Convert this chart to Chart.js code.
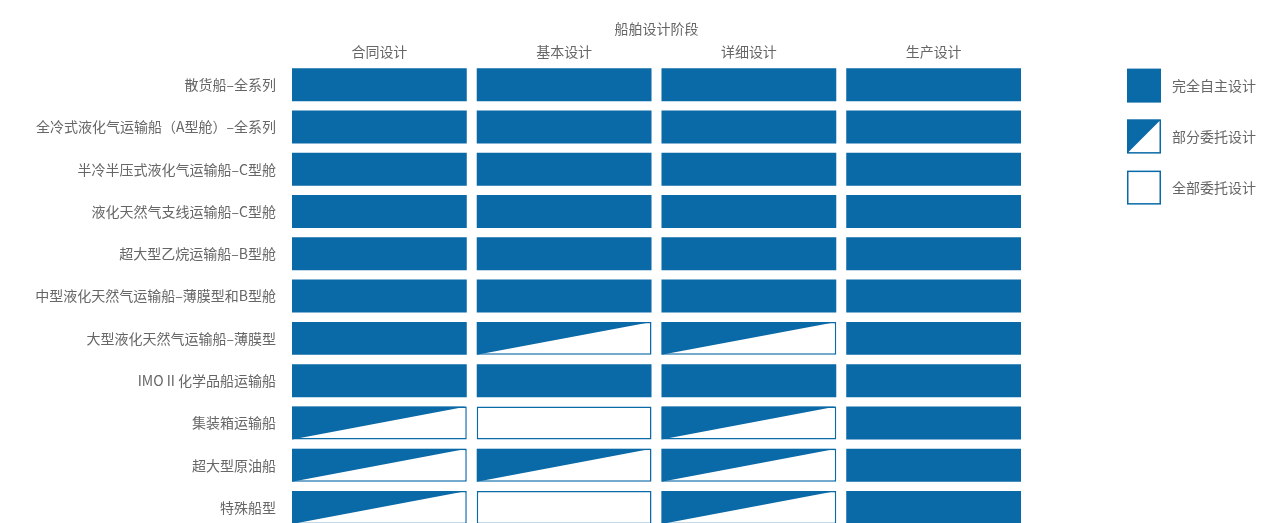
<!DOCTYPE html>
<html>
<head>
<meta charset="utf-8">
<script src="https://cdn.jsdelivr.net/npm/chart.js@4"></script>
<style>
  html, body { margin: 0; padding: 0; background: #fff; overflow: hidden; }
  canvas { display: block; }
</style>
</head>
<body>
<canvas id="myChart" width="1261" height="548"></canvas>
<script>
const shipTypes = [
  '散货船–全系列',
  '全冷式液化气运输船（A型舱）–全系列',
  '半冷半压式液化气运输船–C型舱',
  '液化天然气支线运输船–C型舱',
  '超大型乙烷运输船–B型舱',
  '中型液化天然气运输船–薄膜型和B型舱',
  '大型液化天然气运输船–薄膜型',
  'IMO II 化学品船运输船',
  '集装箱运输船',
  '超大型原油船',
  '特殊船型',
];

const stages = ['合同设计', '基本设计', '详细设计', '生产设计'];

// F = 完全自主设计, P = 部分委托设计, N = 全部委托设计
const contractDesign   = ['F', 'F', 'F', 'F', 'F', 'F', 'F', 'F', 'P', 'P', 'P'];
const basicDesign      = ['F', 'F', 'F', 'F', 'F', 'F', 'P', 'F', 'N', 'P', 'N'];
const detailDesign     = ['F', 'F', 'F', 'F', 'F', 'F', 'P', 'F', 'P', 'P', 'P'];
const productionDesign = ['F', 'F', 'F', 'F', 'F', 'F', 'F', 'F', 'F', 'F', 'F'];

const legendLabels = ['完全自主设计', '部分委托设计', '全部委托设计'];
const legendCodes = ['F', 'P', 'N'];

const BLUE = '#0a69a7';
const TEXT = '#666';
const FONT = "'Noto Sans CJK SC', 'Noto Sans', sans-serif";
const GAP = 0.027;

const statusByStage = [contractDesign, basicDesign, detailDesign, productionDesign];

const datasets = stages.map((name, s) => ({
  label: name,
  data: shipTypes.map(() => [s + GAP, s + 1 - GAP]),
  codes: statusByStage[s],
  backgroundColor: statusByStage[s].map(c => (c === 'F' ? BLUE : '#fff')),
  borderColor: BLUE,
  borderWidth: statusByStage[s].map(c => (c === 'F' ? 0 : 1.5)),
  borderSkipped: false,
  barPercentage: 0.78,
  categoryPercentage: 1,
}));

function drawCell(ctx, code, left, top, right, bottom) {
  if (code === 'F') {
    ctx.fillStyle = BLUE;
    ctx.fillRect(left, top, right - left, bottom - top);
    return;
  }
  ctx.fillStyle = '#fff';
  ctx.fillRect(left, top, right - left, bottom - top);
  if (code === 'P') {
    ctx.fillStyle = BLUE;
    ctx.beginPath();
    ctx.moveTo(left, top);
    ctx.lineTo(right, top);
    ctx.lineTo(left, bottom);
    ctx.closePath();
    ctx.fill();
  }
  ctx.strokeStyle = BLUE;
  ctx.lineWidth = 1.5;
  ctx.strokeRect(left + 0.75, top + 0.75, right - left - 1.5, bottom - top - 1.5);
}

// diagonal fill on partially outsourced cells
const partialCells = {
  id: 'partialCells',
  afterDatasetsDraw(chart) {
    const ctx = chart.ctx;
    ctx.save();
    chart.data.datasets.forEach((ds, i) => {
      const meta = chart.getDatasetMeta(i);
      meta.data.forEach((el, j) => {
        if (ds.codes[j] !== 'P') return;
        const p = el.getProps(['x', 'y', 'base', 'height'], true);
        const left = Math.min(p.x, p.base);
        const right = Math.max(p.x, p.base);
        const top = p.y - p.height / 2;
        const bottom = p.y + p.height / 2;
        ctx.fillStyle = BLUE;
        ctx.beginPath();
        ctx.moveTo(left, top);
        ctx.lineTo(right, top);
        ctx.lineTo(left, bottom);
        ctx.closePath();
        ctx.fill();
      });
    });
    ctx.restore();
  },
};

const sideLegend = {
  id: 'sideLegend',
  afterDraw(chart) {
    const ctx = chart.ctx;
    const area = chart.chartArea;
    const x0 = area.right + 101;
    ctx.save();
    legendLabels.forEach((text, i) => {
      const top = area.top + 5 + i * 51;
      drawCell(ctx, legendCodes[i], x0, top, x0 + 34, top + 34);
      ctx.fillStyle = TEXT;
      ctx.font = '14px ' + FONT;
      ctx.textBaseline = 'middle';
      ctx.textAlign = 'left';
      ctx.fillText(text, x0 + 45, top + 17);
    });
    ctx.restore();
  },
};

new Chart(document.getElementById('myChart'), {
  type: 'bar',
  data: { labels: shipTypes, datasets },
  plugins: [partialCells, sideLegend],
  options: {
    indexAxis: 'y',
    responsive: false,
    animation: false,
    devicePixelRatio: 1,
    layout: { padding: { top: 15, right: 235, bottom: 0, left: 0 } },
    plugins: {
      legend: { display: false },
      tooltip: { enabled: false },
    },
    scales: {
      x: {
        type: 'linear',
        position: 'top',
        min: 0,
        max: stages.length,
        grid: { display: false, drawTicks: false },
        border: { display: false },
        afterBuildTicks: (scale) => {
          scale.ticks = stages.map((_, i) => ({ value: i + 0.5 }));
        },
        ticks: {
          padding: 4,
          color: TEXT,
          font: { family: FONT, size: 14 },
          callback: (v) => stages[Math.floor(v)],
        },
        title: {
          display: true,
          text: '船舶设计阶段',
          color: TEXT,
          font: { family: FONT, size: 14 },
          padding: { top: 5, bottom: 2 },
        },
      },
      y: {
        stacked: true,
        grid: { display: false, drawTicks: false },
        border: { display: false },
        afterFit: (scale) => { scale.width = 287; },
        ticks: {
          padding: 11,
          color: TEXT,
          font: { family: FONT, size: 14 },
        },
      },
    },
  },
});
</script>
</body>
</html>
